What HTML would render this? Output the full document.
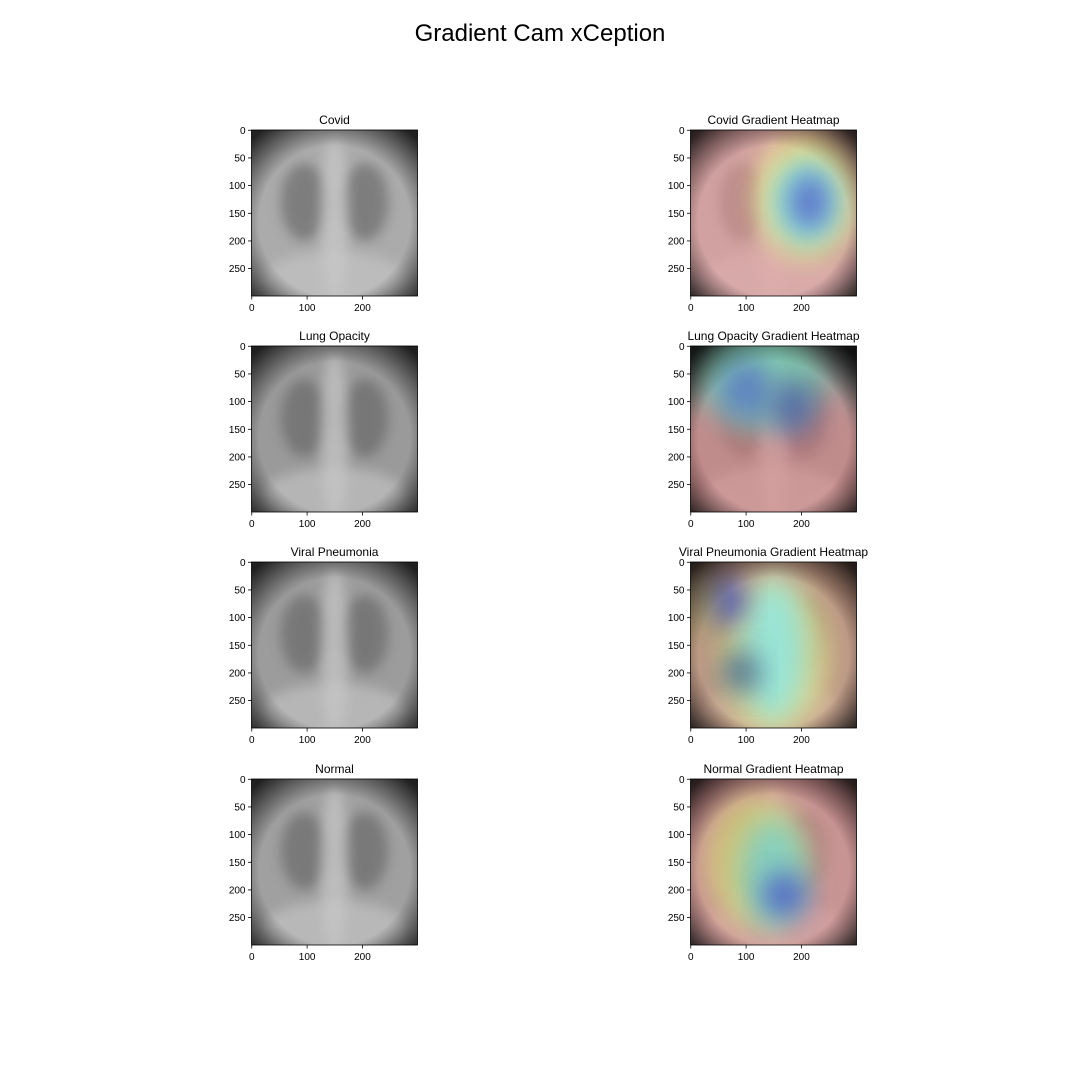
<!DOCTYPE html>
<html><head><meta charset="utf-8"><style>
html,body{margin:0;padding:0;background:#fff;}
svg{display:block;font-family:"Liberation Sans","DejaVu Sans",sans-serif;}
</style></head><body>
<svg id="fig" width="1080" height="1080" viewBox="0 0 1080 1080" xmlns="http://www.w3.org/2000/svg">
<defs>
<filter id="b6" x="-50%" y="-50%" width="200%" height="200%"><feGaussianBlur stdDeviation="6"/></filter>
<filter id="b14" x="-50%" y="-50%" width="200%" height="200%"><feGaussianBlur stdDeviation="14"/></filter>
<radialGradient id="vign" cx="50%" cy="55%" r="70%"><stop offset="65%" stop-color="#000" stop-opacity="0"/><stop offset="100%" stop-color="#000" stop-opacity="0.8"/></radialGradient>
</defs>
<text x="540" y="41" text-anchor="middle" font-size="24" fill="#000">Gradient Cam xCeption</text>
</svg>
<script>
const titles = ["Covid","Covid Gradient Heatmap","Lung Opacity","Lung Opacity Gradient Heatmap","Viral Pneumonia","Viral Pneumonia Gradient Heatmap","Normal","Normal Gradient Heatmap"];
const xTicks = [0,100,200];
const yTicks = [0,50,100,150,200,250];
const bgGray = ["#ababab","#9a9a9a","#9c9c9c","#a0a0a0"];
// heat blobs per row: [cx, cy, rx, ry, color, opacity] in image units (0-300)
const heat0 = [[150,150,200,200,"#f09a9a",0.55],[210,120,90,110,"#f0e878",0.8],[210,130,65,80,"#88f0e8",0.9],[215,130,40,55,"#5868c8",0.9]];
const heat1 = [[150,200,200,140,"#e08080",0.55],[130,60,110,90,"#78d0b0",0.8],[100,80,45,55,"#5878c8",0.85],[185,110,40,50,"#4858a8",0.8]];
const heat2 = [[150,150,200,200,"#d89070",0.5],[150,170,100,140,"#e8e888",0.75],[150,160,60,130,"#88e8e8",0.8],[60,70,40,45,"#4858b8",0.9],[90,200,35,40,"#385888",0.8],[20,80,25,60,"#a8a848",0.6]];
const heat3 = [[150,150,200,200,"#e88a8a",0.55],[120,150,90,120,"#d8d878",0.8],[150,170,60,100,"#78d0c8",0.85],[170,210,40,40,"#4858c8",0.9]];
const heats = [heat0,heat1,heat2,heat3];
const rowTops = [130,346,562,779];
const colLefts = [251.5,690.5];
const W = 166;
const svg = document.getElementById('fig');
const NS = "http://www.w3.org/2000/svg";
function mk(tag, attrs, parent){const e=document.createElementNS(NS,tag);for(const k in attrs)e.setAttribute(k,attrs[k]);(parent||svg).appendChild(e);return e;}
function sx(x0,v){return x0+(v+0.5)*W/300;}
function sy(y0,v){return y0+(v+0.5)*W/300;}
rowTops.forEach((y0,r)=>{
  colLefts.forEach((x0,c)=>{
    const idx=r*2+c;
    const g=mk('g',{});
    
    
    const cid='clip'+idx;
    const cp=mk('clipPath',{id:cid},g);mk('rect',{x:x0,y:y0,width:W,height:W},cp);
    const img=mk('g',{'clip-path':'url(#'+cid+')'},g);
    
    
    mk('rect',{x:x0,y:y0,width:W,height:W,fill:bgGray[r]},img);
    const u=v=>v*W/300;
    mk('ellipse',{cx:x0+u(95),cy:y0+u(130),rx:u(42),ry:u(70),fill:'#606060',opacity:0.6,filter:'url(#b6)'},img);
    mk('ellipse',{cx:x0+u(205),cy:y0+u(130),rx:u(42),ry:u(70),fill:'#606060',opacity:0.6,filter:'url(#b6)'},img);
    mk('ellipse',{cx:x0+u(150),cy:y0+u(160),rx:u(25),ry:u(150),fill:'#d0d0d0',opacity:0.6,filter:'url(#b6)'},img);
    mk('ellipse',{cx:x0+u(150),cy:y0+u(270),rx:u(130),ry:u(50),fill:'#c8c8c8',opacity:0.6,filter:'url(#b6)'},img);
    mk('rect',{x:x0,y:y0,width:W,height:W,fill:'url(#vign)'},img);
    if(c===1){
      heats[r].forEach(h=>{
        mk('ellipse',{cx:x0+u(h[0]),cy:y0+u(h[1]),rx:u(h[2]),ry:u(h[3]),fill:h[4],opacity:h[5],filter:'url(#b14)'},img);
      });
      mk('rect',{x:x0,y:y0,width:W,height:W,fill:'url(#vign)',opacity:0.6},img);
    }
    const fr=mk('rect',{x:x0,y:y0,width:W,height:W,fill:'none',stroke:'#000','stroke-width':0.8},g);
    
    
    const t=mk('text',{x:x0+W/2,y:y0-6,'text-anchor':'middle','font-size':12,fill:'#000'},g);
    t.textContent=titles[idx];
    
    
    xTicks.forEach(v=>{
      const x=sx(x0,v);
      mk('line',{x1:x,x2:x,y1:y0+W,y2:y0+W+3.5,stroke:'#000','stroke-width':0.8},g);
      const tl=mk('text',{x:x,y:y0+W+15,'text-anchor':'middle','font-size':10,fill:'#000'},g);
      tl.textContent=v;
      
      
    });
    yTicks.forEach(v=>{
      const y=sy(y0,v);
      mk('line',{x1:x0-3.5,x2:x0,y1:y,y2:y,stroke:'#000','stroke-width':0.8},g);
      const tl=mk('text',{x:x0-6,y:y+3.5,'text-anchor':'end','font-size':10,fill:'#000'},g);
      tl.textContent=v;
      
      
    });
  });
});
</script>
</body></html>
